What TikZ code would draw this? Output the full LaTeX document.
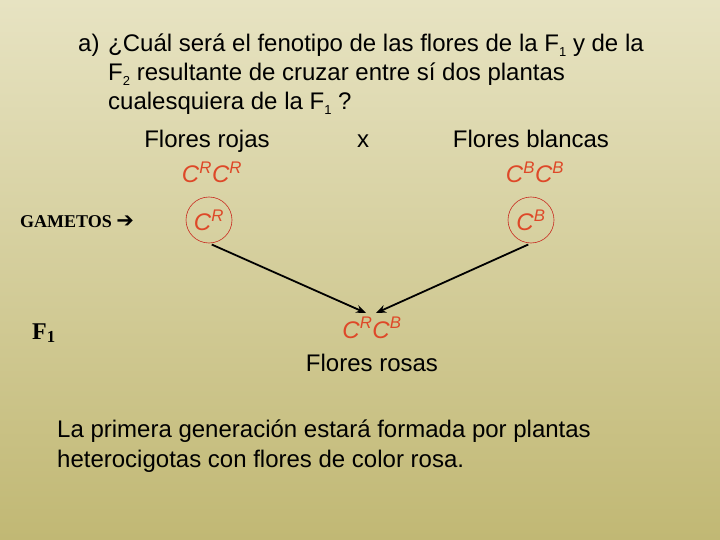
\documentclass[tikz,border=0pt]{standalone}
\usepackage{fontspec}
\setmainfont{Liberation Sans}
\newfontfamily\timesf{Liberation Serif}
\newfontfamily\dejav{DejaVu Sans}
\usetikzlibrary{arrows.meta}
\definecolor{bgtop}{RGB}{231,227,194}
\definecolor{bgbot}{RGB}{193,184,116}
\definecolor{allele}{RGB}{222,72,40}
\definecolor{ring}{RGB}{200,40,30}
\newcommand{\al}[1]{\textit{C}\textsuperscript{\textit{#1}}}
\newcommand{\lowsub}[1]{\raisebox{-5pt}{\fontsize{13}{13}\selectfont #1}}
\begin{document}
\begin{tikzpicture}[x=1pt,y=-1pt,
  txt/.style={anchor=base west,inner sep=0,font=\fontsize{24}{29}\selectfont},
  ctxt/.style={anchor=base,inner sep=0,font=\fontsize{24}{29}\selectfont},
  gen/.style={anchor=base,inner sep=0,text=allele,font=\fontsize{24}{29}\selectfont},
  gamete/.style={circle,draw=ring,line width=0.6pt,minimum size=46pt,inner sep=0,text=allele,font=\fontsize{24}{29}\selectfont},
  lbl/.style={anchor=base west,inner sep=0,font=\timesf\bfseries\fontsize{18}{22}\selectfont},
  arr/.style={line width=1.8pt,-{Stealth[length=10pt,width=8pt]}}]
\shade[top color=bgtop,bottom color=bgbot] (0,0) rectangle (720,540);
\useasboundingbox (0,0) rectangle (720,540);
% question
\node[txt] (qa) at (78,52) {a)};
\node[txt] (q1) at (108,52) {¿Cuál será el fenotipo de las flores de la F\lowsub{1} y de la};
\node[txt] (q2) at (108,81) {F\lowsub{2} resultante de cruzar entre sí dos plantas};
\node[txt] (q3) at (108,110) {cualesquiera de la F\lowsub{1} ?};
% parents
\node[ctxt] (pr) at (207,148) {Flores rojas};
\node[ctxt] (px) at (363,148) {x};
\node[ctxt] (pb) at (531,148) {Flores blancas};
\node[gen] (gr2) at (212,183) {\al{R}\al{R}};
\node[gen] (gb2) at (535,183) {\al{B}\al{B}};
% gametes
\node[lbl] (gam) at (20,227) {GAMETOS {\dejav\bfseries\fontsize{21}{22}\selectfont ➔}};
\node[gamete] (gr) at (209,220) {\al{R}};
\node[gamete] (gb) at (531,220) {\al{B}};
% F1
\node[anchor=base west,inner sep=0,font=\timesf\bfseries\fontsize{24}{29}\selectfont] (f1l) at (32,339) {F\textsubscript{1}};
\coordinate (tipL) at (366,313);
\coordinate (tipR) at (376,313);
\draw[arr,shorten <=3pt] (gr.south) -- (tipL);
\draw[arr,shorten <=3pt] (gb.south) -- (tipR);
\node[gen] (f1g) at (372,338) {\al{R}\al{B}};
\node[ctxt] (f1t) at (372,371) {Flores rosas};
% conclusion
\node[txt] (c1) at (57,437) {La primera generación estará formada por plantas};
\node[txt] (c2) at (57,467) {heterocigotas con flores de color rosa.};
\end{tikzpicture}
\end{document}
